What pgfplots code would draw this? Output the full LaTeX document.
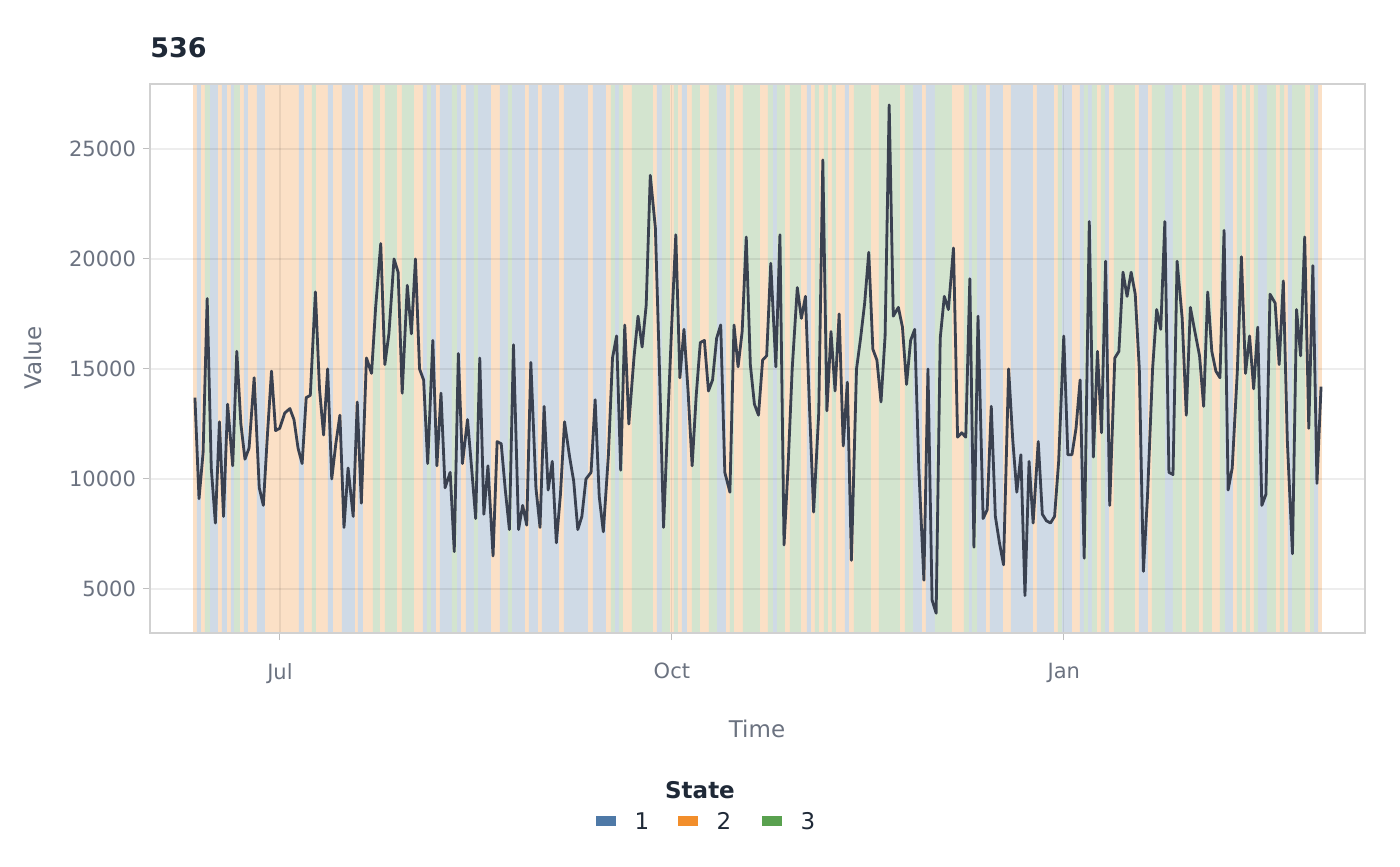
\documentclass[border=0pt]{standalone}
\usepackage{pgfplots}
\pgfplotsset{compat=1.18}
\usepackage{pgfplotstable}
\usepackage{fontspec}
\setmainfont{DejaVu Sans}
\definecolor{bblue}{HTML}{CFDAE6}
\definecolor{borange}{HTML}{FBE0C6}
\definecolor{bgreen}{HTML}{D3E4CF}
\definecolor{kblue}{HTML}{4E79A7}
\definecolor{korange}{HTML}{F28E2B}
\definecolor{kgreen}{HTML}{59A14F}
\definecolor{linec}{HTML}{3A4150}
\definecolor{txtg}{HTML}{6B7280}
\definecolor{titc}{HTML}{1F2937}
\pgfplotstableread{
px y
193 30000
1322 0
}\orangeband
\pgfplotstableread{
px y
197 30000
201 0
210 30000
218 0
222 30000
227 0
231 30000
234 0
244 30000
248 0
257 30000
265 0
299 30000
304 0
328 30000
333 0
342 30000
355 0
358 30000
363 0
423 30000
427 0
431 30000
436 0
440 30000
452 0
457 30000
461 0
466 30000
474 0
478 30000
491 0
500 30000
508 0
512 30000
525 0
529 30000
538 0
542 30000
559 0
564 30000
588 0
593 30000
606 0
615 30000
619 0
657 30000
662 0
682 30000
687 0
717 30000
726 0
773 30000
777 0
807 30000
811 0
845 30000
849 0
913 30000
922 0
926 30000
935 0
969 30000
972 0
977 30000
986 0
990 30000
1003 0
1011 30000
1033 0
1037 30000
1054 0
1062 30000
1072 0
1080 30000
1084 0
1088 30000
1092 0
1105 30000
1109 0
1139 30000
1148 0
1165 30000
1173 0
1225 30000
1233 0
1258 30000
1267 0
1288 30000
1292 0
1314 30000
1318 0
}\blueband
\pgfplotstableread{
px y
205 30000
210 0
234 30000
240 0
312 30000
316 0
373 30000
380 0
385 30000
397 0
402 30000
414 0
427 30000
431 0
452 30000
457 0
474 30000
478 0
508 30000
512 0
611 30000
615 0
619 30000
623 0
632 30000
653 0
662 30000
670 0
674 30000
678 0
692 30000
700 0
709 30000
717 0
730 30000
734 0
743 30000
760 0
768 30000
773 0
777 30000
785 0
790 30000
801 0
815 30000
819 0
824 30000
828 0
832 30000
836 0
854 30000
871 0
879 30000
900 0
905 30000
913 0
935 30000
952 0
964 30000
969 0
972 30000
977 0
1058 30000
1062 0
1084 30000
1088 0
1092 30000
1097 0
1101 30000
1105 0
1114 30000
1135 0
1152 30000
1165 0
1173 30000
1182 0
1186 30000
1199 0
1203 30000
1212 0
1220 30000
1225 0
1237 30000
1242 0
1246 30000
1250 0
1254 30000
1258 0
1267 30000
1276 0
1280 30000
1284 0
1292 30000
1305 0
1310 30000
1314 0
}\greenband
\pgfplotstableread{
px v
195 13700
199 9100
203 11200
207 18200
211 10500
215 8000
219 12600
223 8300
227 13400
232 10600
236 15800
240 12500
244 10900
248 11400
253 14600
258 9600
262 8800
266 12000
270 14900
274 12200
278 12300
283 13000
288 13200
292 12700
296 11400
300 10700
304 13700
308 13800
313 18500
317 14100
321 12000
325 15000
329 10000
333 11600
337 12900
341 7800
345 10500
350 8300
354 13500
358 8900
363 15500
368 14800
372 17800
377 20700
381 15200
385 16600
390 20000
394 19400
398 13900
403 18800
407 16600
411 20000
415 15000
419 14500
423 10700
428 16300
432 10600
436 13900
440 9600
445 10300
449 6700
453 15700
457 10700
462 12700
466 10500
470 8200
474 15500
478 8400
482 10600
487 6500
491 11700
495 11600
499 9500
503 7700
507 16100
512 7700
516 8800
520 7900
524 15300
529 9600
533 7800
537 13300
541 9500
545 10800
549 7100
553 9300
557 12600
562 11000
566 9900
570 7700
574 8300
578 10000
583 10300
587 13600
591 9200
595 7600
600 11100
604 15500
608 16500
612 10400
616 17000
620 12500
625 15500
629 17400
633 16000
637 17900
641 23800
646 21400
650 15000
654 7800
658 12500
662 17000
666 21100
670 14600
674 16800
678 14000
682 10600
686 13800
690 16200
694 16300
698 14000
702 14500
706 16400
710 17000
714 10300
719 9400
723 17000
727 15100
731 16700
735 21000
739 15200
743 13400
747 12900
751 15400
755 15600
759 19800
764 15100
768 21100
772 7000
776 10600
780 15000
785 18700
789 17300
793 18300
797 13200
801 8500
806 13000
810 24500
814 13100
818 16700
822 14000
826 17500
830 11500
834 14400
838 6300
843 15000
847 16400
851 18000
855 20300
859 15900
863 15400
867 13500
871 16500
875 27000
879 17400
884 17800
888 16900
892 14300
896 16300
900 16800
904 10500
909 5400
913 15000
917 4500
921 3900
925 16400
929 18300
933 17700
938 20500
942 11900
946 12100
950 11900
954 19100
958 6900
962 17400
967 8200
971 8600
975 13300
979 8300
983 7100
987 6100
992 15000
996 11800
1000 9400
1004 11100
1008 4700
1012 10800
1016 8000
1021 11700
1025 8400
1029 8100
1033 8000
1037 8300
1041 10800
1046 16500
1050 11100
1054 11100
1058 12300
1062 14500
1066 6400
1071 21700
1075 11000
1079 15800
1083 12100
1087 19900
1091 8800
1096 15500
1100 15800
1104 19400
1108 18300
1112 19400
1116 18400
1120 15000
1124 5800
1128 9200
1133 15000
1137 17700
1141 16800
1145 21700
1149 10300
1153 10200
1157 19900
1162 17300
1166 12900
1170 17800
1174 16800
1179 15600
1183 13300
1187 18500
1191 15800
1195 14900
1199 14600
1203 21300
1207 9500
1211 10500
1216 14900
1220 20100
1224 14800
1228 16500
1232 14100
1236 16900
1240 8800
1244 9300
1248 18400
1253 18000
1257 15200
1261 19000
1265 11700
1270 6600
1274 17700
1278 15600
1282 21000
1286 12300
1290 19700
1294 9800
1298 14200
}\series
\begin{document}
\begin{tikzpicture}
\begin{axis}[
  at={(0,0)}, anchor=south west,
  scale only axis, width=607.5pt, height=274.5pt,
  xmin=-30.5, xmax=254.7, ymin=3000, ymax=27952,
  xtick={0,92,184}, xticklabels={Jul,Oct,Jan},
  ytick={5000,10000,15000,20000,25000},
  yticklabels={5000,10000,15000,20000,25000},
  scaled y ticks=false,
  xtick pos=bottom, ytick pos=left,
  tick label style={font=\fontsize{10.5}{12}\selectfont, text=txtg},
  xticklabel style={yshift=-8pt},
  tick align=outside, major tick length=3.5pt,
  tick style={draw=black!25, line width=0.5pt},
  grid=major, grid style={draw=black, draw opacity=0.07, line width=0.6pt},
  axis line style={draw=black!18, line width=0.6pt},
  axis on top,
]
\addplot[ybar interval, fill=borange, draw=none] table[x expr={(\thisrow{px}-280)/4.26}, y=y] {\orangeband};
\addplot[ybar interval, fill=bblue, draw=none] table[x expr={(\thisrow{px}-280)/4.26}, y=y] {\blueband};
\addplot[ybar interval, fill=bgreen, draw=none] table[x expr={(\thisrow{px}-280)/4.26}, y=y] {\greenband};
\addplot[linec, line width=1.4pt, line join=round, mark=none] table[x expr={((\thisrow{px}-195)*1.0209+195-280)/4.26}, y=v] {\series};
\end{axis}
\node[anchor=west, inner sep=0pt, font=\bfseries\fontsize{13.5}{15}\selectfont, text=titc] at (0pt,292.5pt) {536};
\node[rotate=90, font=\fontsize{11.5}{13}\selectfont, text=txtg] at (-58.5pt,137.5pt) {Value};
\node[font=\fontsize{11.5}{13}\selectfont, text=txtg] at (303.5pt,-48pt) {Time};
\node[font=\bfseries\fontsize{11.5}{13}\selectfont, text=titc] at (275pt,-78.5pt) {State};
\fill[kblue] (223pt,-96.5pt) rectangle (233pt,-91.5pt);
\fill[korange] (264pt,-96.5pt) rectangle (274pt,-91.5pt);
\fill[kgreen] (306pt,-96.5pt) rectangle (316pt,-91.5pt);
\node[font=\fontsize{11.5}{13}\selectfont, text=titc] at (246pt,-94pt) {1};
\node[font=\fontsize{11.5}{13}\selectfont, text=titc] at (287pt,-94pt) {2};
\node[font=\fontsize{11.5}{13}\selectfont, text=titc] at (329pt,-94pt) {3};
\path[use as bounding box] (-75pt,-116.5pt) rectangle (625pt,316.5pt);
\end{tikzpicture}
\end{document}
